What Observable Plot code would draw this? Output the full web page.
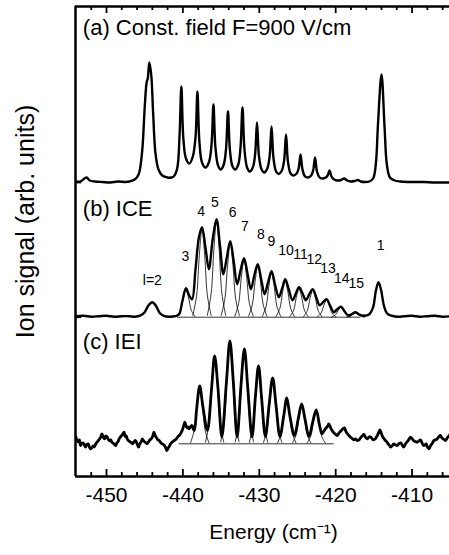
<!DOCTYPE html>
<html><head><meta charset="utf-8">
<script src="https://cdn.jsdelivr.net/npm/d3@7"></script>
<script src="https://cdn.jsdelivr.net/npm/@observablehq/plot@0.6"></script>
<style>body{margin:0;background:#fff;}</style>
</head><body><div id="chart"></div>
<script>
// Axis domains (energy in cm^-1, signal in arbitrary units)
const xDomain = [-454.06, -405.1];
const yDomain = [0, 470];
const majorTicks = [-450, -440, -430, -420, -410];
const minorTicks = [-452, -448, -446, -444, -442, -438, -436, -434, -432, -428, -426, -424, -422, -418, -416, -414, -412, -408, -406];

// Vertical offsets of the three stacked spectra (arb. units)
const panelBase = [294, 159.3, 32.7];
const panelLabels = ["(a) Const. field F=900 V/cm", "(b) ICE", "(c) IEI"];
const panelLabelY = [442, 261, 128];
const panelLabelX = -453.1;

// (a) constant field spectrum [energy, signal]
const spectrumA = [
[-454.0,1],[-453.4,1],[-452.9,4],[-452.6,5],[-452.2,2],[-451.5,1],[-450.5,0.5],[-449.5,0],[-448.5,1],[-447.5,0.5],[-447.0,1],[-446.3,3],[-445.8,8],[-445.35,30],[-445.0,75],[-444.75,100],[-444.6,104],[-444.4,120],[-444.15,108],[-443.9,70],[-443.6,30],[-443.2,13],[-442.7,7],[-442.0,5],[-441.5,5],[-441.2,6],
[-440.75,14],[-440.45,45],[-440.2,96],[-439.95,45],[-439.6,24],[-439.15,19],
[-438.7,26],[-438.35,45],[-438.1,91],[-437.85,42],[-437.5,20],[-437.05,15],
[-436.6,20],[-436.25,38],[-436.0,78],[-435.75,36],[-435.4,17],[-435.05,13],
[-434.65,18],[-434.35,34],[-434.1,71],[-433.85,33],[-433.5,16],[-433.15,13],
[-432.75,18],[-432.45,36],[-432.2,75],[-431.95,34],[-431.6,15],[-431.25,11],
[-430.85,15],[-430.55,28],[-430.3,60],[-430.05,27],[-429.7,13],[-429.35,10],
[-428.95,14],[-428.65,26],[-428.4,56],[-428.15,25],[-427.8,11],[-427.45,8.5],
[-427.05,12],[-426.75,22],[-426.5,48],[-426.25,21],[-425.9,9],[-425.55,7],
[-425.1,9],[-424.85,14],[-424.6,28],[-424.35,13],[-424.0,6],[-423.65,5],
[-423.2,7],[-422.95,12],[-422.7,25],[-422.45,11],[-422.1,5],[-421.75,4],
[-421.3,5],[-421.05,7],[-420.8,12],[-420.55,6],[-420.2,3],[-419.85,2],
[-419.3,2.5],[-418.9,4],[-418.5,2],[-418.0,1],[-417.5,1.5],[-417.1,2.5],[-416.7,1],[-416.2,0.5],
[-415.6,1],[-415.1,4],[-414.75,18],[-414.45,60],[-414.0,108],[-413.6,55],[-413.3,18],[-412.9,5],[-412.3,2],[-411.5,1],[-410.0,0.5],[-408.5,0.5],[-407.0,0],[-405.0,0]
];

// (b) ICE spectrum envelope [energy, signal]
const spectrumB = [
[-454.0,1],[-453.0,1.5],[-452.0,0.5],[-451.0,1],[-450.0,1.5],[-449.0,0.5],[-448.0,1],[-447.0,1],[-446.3,0.5],[-445.6,1.5],[-445.0,5],[-444.5,12],[-444.0,15],[-443.5,11],[-443.0,4],[-442.4,1],[-441.7,0.5],[-441.0,1],
[-440.5,3],[-440.1,15],[-439.6,29],[-439.2,22],[-438.8,18],[-438.35,48],[-437.9,80],[-437.5,90],[-437.05,70],[-436.6,48],[-436.1,78],[-435.6,98],[-435.15,72],[-434.7,43],[-434.25,60],[-433.8,76],[-433.35,56],[-432.9,33],[-432.45,47],[-432.0,59],[-431.55,44],[-431.1,28],[-430.65,42],[-430.2,53],[-429.75,38],[-429.3,23],[-428.85,35],[-428.4,46],[-427.95,33],[-427.45,20],[-427.0,29],[-426.6,38],[-426.15,28],[-425.65,17],[-425.2,24],[-424.8,30],[-424.35,24],[-423.9,17],[-423.45,23],[-423.0,28],[-422.55,20],[-422.1,12],[-421.65,15],[-421.2,18],[-420.7,11],[-420.25,5],[-419.8,8],[-419.3,10.5],[-418.85,6],[-418.4,2],[-417.9,3],[-417.4,5],[-416.9,2.5],[-416.3,1.5],
[-415.6,3],[-415.1,10],[-414.75,26],[-414.4,35],[-414.05,27],[-413.7,12],[-413.3,4],[-412.7,1.5],[-412.0,0.5],[-411.0,1],[-410.0,1.5],[-409.0,0.5],[-408.0,1],[-407.0,1.5],[-406.0,0.5],[-405.0,1]
];

// (b) fitted components, l = 3 ... 15
const componentsB = [
[[-440.8,0.5],[-440.3,6.8],[-439.95,19],[-439.6,27],[-439.25,19],[-438.9,6.8],[-438.4,0.5]],
[[-438.7,1.8],[-438.2,22],[-437.85,62],[-437.5,88],[-437.15,62],[-436.8,22],[-436.3,1.8]],
[[-436.8,1.9],[-436.3,24],[-435.95,67],[-435.6,96],[-435.25,67],[-434.9,24],[-434.4,1.9]],
[[-435.0,1.5],[-434.5,18.5],[-434.15,52],[-433.8,74],[-433.45,52],[-433.1,18.5],[-432.6,1.5]],
[[-433.2,1.1],[-432.7,14],[-432.35,40],[-432.0,57],[-431.65,40],[-431.3,14],[-430.8,1.1]],
[[-431.4,1],[-430.9,13],[-430.55,36],[-430.2,51],[-429.85,36],[-429.5,13],[-429.0,1]],
[[-429.6,0.9],[-429.1,11],[-428.75,31],[-428.4,44],[-428.05,31],[-427.7,11],[-427.2,0.9]],
[[-427.8,0.7],[-427.3,9],[-426.95,25],[-426.6,36],[-426.25,25],[-425.9,9],[-425.4,0.7]],
[[-426.0,0.6],[-425.5,7],[-425.15,20],[-424.8,28],[-424.45,20],[-424.1,7],[-423.6,0.6]],
[[-424.2,0.5],[-423.7,6.8],[-423.35,19],[-423.0,27],[-422.65,19],[-422.3,6.8],[-421.8,0.5]],
[[-422.4,0.3],[-421.9,4.3],[-421.55,12],[-421.2,17],[-420.85,12],[-420.5,4.3],[-420.0,0.3]],
[[-420.5,0.2],[-420.0,2.5],[-419.65,7],[-419.3,10],[-418.95,7],[-418.6,2.5],[-418.1,0.2]],
[[-418.6,0],[-418.1,1],[-417.75,2.8],[-417.4,4],[-417.05,2.8],[-416.7,1],[-416.2,0]]
];
const baselineB = [-440.7, -416.7];

// (b) peak labels: text, energy, height above the (b) baseline
const peakLabelText = ["l=2","3","4","5","6","7","8","9","10","11","12","13","14","15","1"];
const peakLabelX = [-444.0,-439.66,-437.6,-435.8,-433.5,-431.9,-429.8,-428.4,-426.5,-424.6,-422.8,-421.0,-419.2,-417.3,-414.1];
const peakLabelY = [32.7,56,101.7,110.7,100,86.7,78.7,71.7,62.7,58.7,53.7,44.7,34.7,29.7,67.7];

// (c) IEI spectrum [energy, signal]
const spectrumC = [
[-454.0,6.7],[-453.85,3],[-453.7,2],[-453.55,4],[-453.4,-1.7],[-453.25,0],[-453.1,1],[-452.9,-1],[-452.75,-3.3],[-452.6,-1],[-452.4,0],[-452.25,-3],[-452.1,-5],[-451.9,-4],[-451.75,-2],[-451.6,-3],[-451.4,0],[-451.2,2],[-451.0,4],[-450.8,6],[-450.6,10],[-450.45,7],[-450.25,5],[-450.1,8],[-449.9,6.7],[-449.75,4],[-449.6,3],[-449.45,4],[-449.3,1.7],[-449.05,0],[-448.8,-1.7],[-448.65,1],[-448.5,2],[-448.35,5],[-448.2,6.7],[-447.95,9],[-447.7,11.7],[-447.6,8],[-447.5,7],[-447.4,8],[-447.3,5],[-447.1,3],[-446.9,2],[-446.75,1],[-446.6,0],[-446.4,2],[-446.2,3.3],[-446.0,0],[-445.8,-3.3],[-445.7,-1],[-445.55,1],[-445.4,3],[-445.3,5],[-445.15,3],[-445.0,2],[-444.85,1],[-444.7,0],[-444.5,2],[-444.3,4],[-444.15,5],[-444.0,6.7],[-443.9,9],[-443.8,11.7],[-443.6,8],[-443.45,6],[-443.3,4],[-443.1,3.3],[-442.9,1],[-442.7,0],[-442.5,-1],[-442.3,-3.3],[-442.2,-5],[-442.1,-6.7],[-441.9,-4],[-441.75,-2],[-441.6,0],[-441.4,1.7],[-441.2,3],[-441.0,4],[-440.85,5],[-440.7,6.7],[-440.55,8],[-440.4,9],[-440.25,11],[-440.1,13.3],[-439.9,18],[-439.75,21.7],[-439.6,18],[-439.45,16],[-439.3,17],[-439.2,15],[-439.0,17],[-438.8,18.3],[-438.65,15],[-438.5,13.3],
[-438.2,35],[-437.8,58],[-437.4,38],[-436.8,13.3],[-436.25,55],[-435.85,88],[-435.4,55],[-434.9,7],[-434.3,62],[-433.85,103],[-433.4,62],[-432.9,7],[-432.4,58],[-431.95,95],[-431.5,55],[-430.95,7],[-430.5,48],[-430.1,78],[-429.7,46],[-429.2,7.3],[-428.7,40],[-428.25,66],[-427.8,38],[-427.3,7.3],[-426.8,28],[-426.4,46],[-426.0,28],[-425.4,8.3],[-424.9,25],[-424.45,40],[-424.0,24],[-423.5,7.3],[-423.0,22],[-422.55,34],[-422.15,20],[-421.8,10],
[-421.6,12],[-421.35,15],[-421.1,17],[-420.9,20],[-420.6,15],[-420.35,12],[-420.1,10],[-419.8,8.3],[-419.55,11],[-419.3,13],[-419.05,15],[-418.85,16],[-418.65,12],[-418.45,10],[-418.25,8],[-418.06,6.7],[-417.8,5],[-417.6,4],[-417.4,5],[-417.2,3.3],[-416.95,4],[-416.75,6],[-416.5,8],[-416.3,9.3],[-416.05,6],[-415.85,5],[-415.6,7],[-415.4,6.7],[-415.1,4],[-414.8,5],[-414.65,7],[-414.5,9],[-414.35,12],[-414.2,14],[-414.0,10],[-413.85,7],[-413.65,5],[-413.5,3.3],[-413.3,2],[-413.15,0],[-413.0,-1],[-412.8,-3.3],[-412.6,-2],[-412.4,0],[-412.2,-1],[-411.95,-1.7],[-411.75,0],[-411.5,1],[-411.3,-1],[-411.1,-3.3],[-410.85,0],[-410.65,2],[-410.45,4],[-410.2,6.7],[-410.0,5],[-409.75,3],[-409.5,2],[-409.3,1.7],[-409.1,3],[-408.9,4],[-408.7,1],[-408.5,-1.7],[-408.3,-1],[-408.15,0],[-408.0,-3],[-407.8,-5],[-407.65,-3],[-407.5,-1],[-407.3,1],[-407.15,3.3],[-406.9,4],[-406.7,5],[-406.5,7],[-406.3,8.3],[-406.1,6],[-405.95,5],[-405.75,4],[-405.6,3.3],[-405.45,5],[-405.3,7],[-405.15,8],[-405.0,10]
];

// (c) fitted components
const componentsC = [
[[-439.0,1],[-438.5,14],[-438.15,38.5],[-437.8,55],[-437.45,38.5],[-437.1,14],[-436.6,1]],
[[-437.05,1.7],[-436.55,21.5],[-436.2,60],[-435.85,86],[-435.5,60],[-435.15,21.5],[-434.65,1.7]],
[[-435.05,2],[-434.55,25],[-434.2,70],[-433.85,100],[-433.5,70],[-433.15,25],[-432.65,2]],
[[-433.15,1.9],[-432.65,23],[-432.3,65],[-431.95,93],[-431.6,65],[-431.25,23],[-430.75,1.9]],
[[-431.3,1.5],[-430.8,19],[-430.45,53],[-430.1,76],[-429.75,53],[-429.4,19],[-428.9,1.5]],
[[-429.45,1.3],[-428.95,16],[-428.6,44],[-428.25,63],[-427.9,44],[-427.55,16],[-427.05,1.3]],
[[-427.6,0.9],[-427.1,11],[-426.75,31],[-426.4,44],[-426.05,31],[-425.7,11],[-425.2,0.9]],
[[-425.65,0.8],[-425.15,9.5],[-424.8,26.6],[-424.45,38],[-424.1,26.6],[-423.75,9.5],[-423.25,0.8]],
[[-423.75,0.6],[-423.25,8],[-422.9,22.4],[-422.55,32],[-422.2,22.4],[-421.85,8],[-421.35,0.6]]
];
const baselineC = [-440.5, -420.2];

const flat = (comps, base) => comps.flatMap((pts, k) => pts.map(p => ({x: p[0], y: p[1] + base, k})));
const shift = (pts, base) => pts.map(p => ({x: p[0], y: p[1] + base}));

const frameH = 470, frameW = 374;
const chart = Plot.plot({
  width: 449, height: 555,
  marginLeft: 75, marginRight: 0, marginTop: 6, marginBottom: 79,
  style: {fontFamily: "'Liberation Sans', Arial, Helvetica, sans-serif", background: "white", color: "black", overflow: "visible"},
  x: {domain: xDomain, axis: null},
  y: {domain: yDomain, axis: null},
  marks: [
    // thin baselines and fitted components
    Plot.ruleY([panelBase[1]], {x1: baselineB[0], x2: baselineB[1], stroke: "black", strokeWidth: 0.8}),
    Plot.ruleY([panelBase[2]], {x1: baselineC[0], x2: baselineC[1], stroke: "black", strokeWidth: 0.8}),
    Plot.line(flat(componentsB, panelBase[1]), {x: "x", y: "y", z: "k", curve: "catmull-rom", stroke: "black", strokeWidth: 0.8}),
    Plot.line(flat(componentsC, panelBase[2]), {x: "x", y: "y", z: "k", curve: "catmull-rom", stroke: "black", strokeWidth: 0.8}),
    // spectra
    Plot.line(shift(spectrumA, panelBase[0]), {x: "x", y: "y", curve: "catmull-rom", stroke: "black", strokeWidth: 2.4, clip: true}),
    Plot.line(shift(spectrumB, panelBase[1]), {x: "x", y: "y", curve: "catmull-rom", stroke: "black", strokeWidth: 2.4, clip: true}),
    Plot.line(shift(spectrumC, panelBase[2]), {x: "x", y: "y", curve: "catmull-rom", stroke: "black", strokeWidth: 2.8, strokeLinejoin: "round", clip: true}),
    // frame (left, top, bottom)
    Plot.ruleX([xDomain[0]], {stroke: "black", strokeWidth: 2.5}),
    Plot.ruleY(yDomain, {stroke: "black", strokeWidth: 2.5}),
    // inward ticks
    Plot.tickX(minorTicks, {x: d => d, insetTop: frameH - 4, stroke: "black", strokeWidth: 1.8}),
    Plot.tickX(majorTicks, {x: d => d, insetTop: frameH - 7, stroke: "black", strokeWidth: 1.8}),
    Plot.tickX(minorTicks, {x: d => d, insetBottom: frameH - 4, stroke: "black", strokeWidth: 1.8}),
    Plot.tickX(majorTicks, {x: d => d, insetBottom: frameH - 7, stroke: "black", strokeWidth: 1.8}),
    Plot.tickY(panelBase.slice(0, 2), {y: d => d, insetRight: frameW - 6, stroke: "black", strokeWidth: 1.8}),
    // tick labels
    Plot.text(majorTicks, {x: d => d, frameAnchor: "bottom", text: d => String(d), lineAnchor: "top", dy: 11, fontSize: 21, fill: "black"}),
    // panel labels
    Plot.text(panelLabels, {x: panelLabelX, y: (d, i) => panelLabelY[i], text: d => d, textAnchor: "start", lineAnchor: "bottom", fontSize: 22, fill: "black"}),
    // peak labels in (b)
    Plot.text(peakLabelText, {x: (d, i) => peakLabelX[i], y: (d, i) => peakLabelY[i] + panelBase[1], text: d => d, lineAnchor: "bottom", fontSize: 14, fill: "black"}),
    // axis titles
    Plot.text(["Energy (cm\u207B\u00B9)"], {frameAnchor: "bottom", text: d => d, textAnchor: "middle", lineAnchor: "bottom", dx: 11, dy: 62, fontSize: 21, fill: "black"}),
    Plot.text(["Ion signal (arb. units)"], {frameAnchor: "left", text: d => d, rotate: -90, textAnchor: "middle", lineAnchor: "bottom", dx: -42, dy: -20, fontSize: 25, fill: "black"})
  ]
});
document.getElementById("chart").append(chart);
</script>
</body></html>
